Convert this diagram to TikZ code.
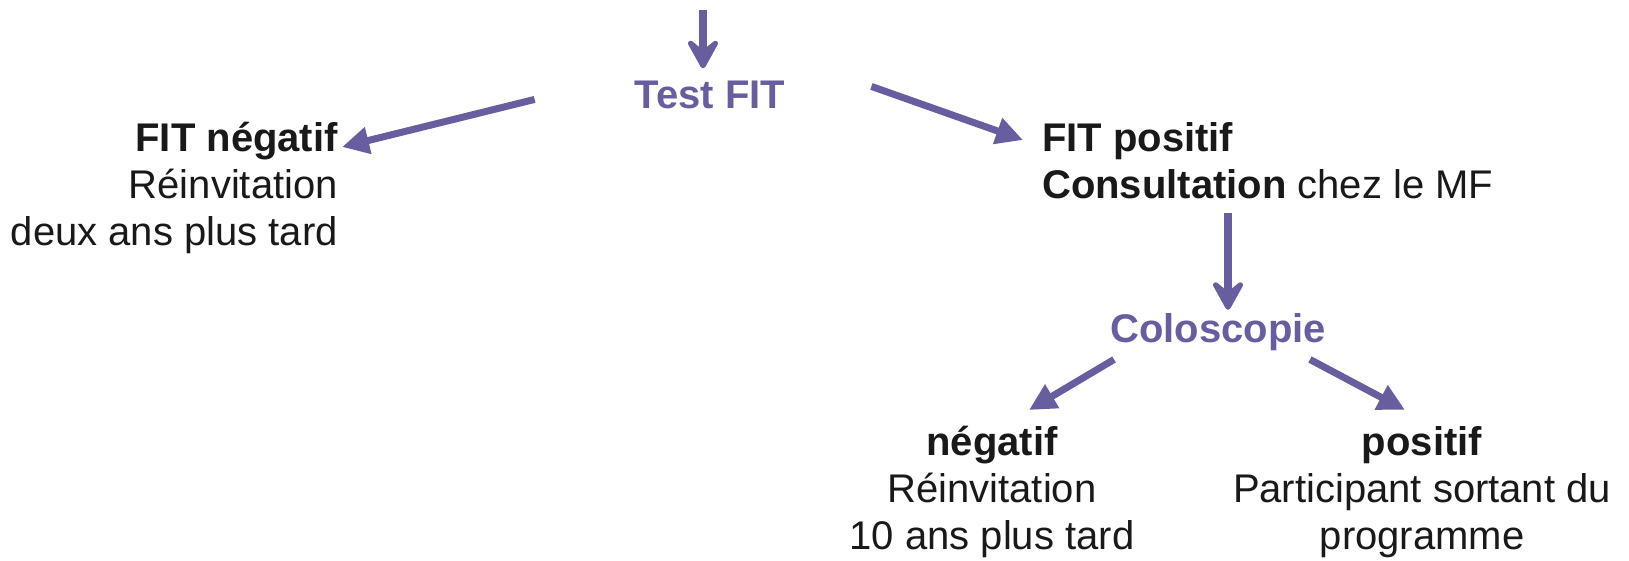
\documentclass[tikz,border=0pt]{standalone}
\usepackage{fontspec}
\setmainfont{Liberation Sans}
\usetikzlibrary{arrows.meta}

\definecolor{violet}{HTML}{675E9F}

\tikzset{
  fleche/.style={->, draw=violet, line width=7pt},
  flechebas/.style={-{Stealth[length=38pt,width=42pt,inset=17pt,round]}, draw=violet, line width=8pt},
  titre/.style={text=violet, font=\fontsize{40}{47}\selectfont\bfseries, inner sep=0pt, anchor=base},
  bloc/.style={inner sep=0pt, text=black!90, font=\fontsize{40}{47}\selectfont}
}

\begin{document}
\begin{tikzpicture}[x=1pt, y=-1pt, >={Triangle[length=27pt,width=26pt]}]

\useasboundingbox (0,0) rectangle (1629,561);

% etapes
\node [titre] (test) at (710,109) {Test FIT};
\node [bloc, align=right, anchor=north east] (fitneg) at (338,122) {\textbf{FIT négatif}\\Réinvitation\\deux ans plus tard};
\node [bloc, align=left, anchor=north west] (fitpos) at (1042,122) {\textbf{FIT positif}\\\textbf{Consultation} chez le MF};
\node [titre] (colo) at (1218,342) {Coloscopie};
\node [bloc, align=center, anchor=north] (neg) at (992,426) {\textbf{négatif}\\Réinvitation\\10 ans plus tard};
\node [bloc, align=center, anchor=north] (pos) at (1422,426) {\textbf{positif}\\Participant sortant du\\programme};

\coordinate (entree) at (703,10);

% fleches
\draw [flechebas] (entree) -- ([xshift=-7pt,yshift=13pt]test.north);
\draw [fleche] ([xshift=-100pt,yshift=-4pt]test.west) -- ([xshift=4pt,yshift=-25pt]fitneg.north east);
\draw [fleche] ([xshift=86pt,yshift=9pt]test.east) -- ([xshift=-19pt,yshift=-18pt]fitpos.north west);
\draw [flechebas] ([xshift=10pt,yshift=100pt]colo.north) -- ([xshift=10pt,yshift=3pt]colo.north);
\draw [fleche] ([xshift=4pt,yshift=-9pt]colo.south west) -- ([xshift=37pt,yshift=16pt]neg.north);
\draw [fleche] ([xshift=-16pt,yshift=-9pt]colo.south east) -- ([xshift=-17pt,yshift=16pt]pos.north);

\end{tikzpicture}
\end{document}
